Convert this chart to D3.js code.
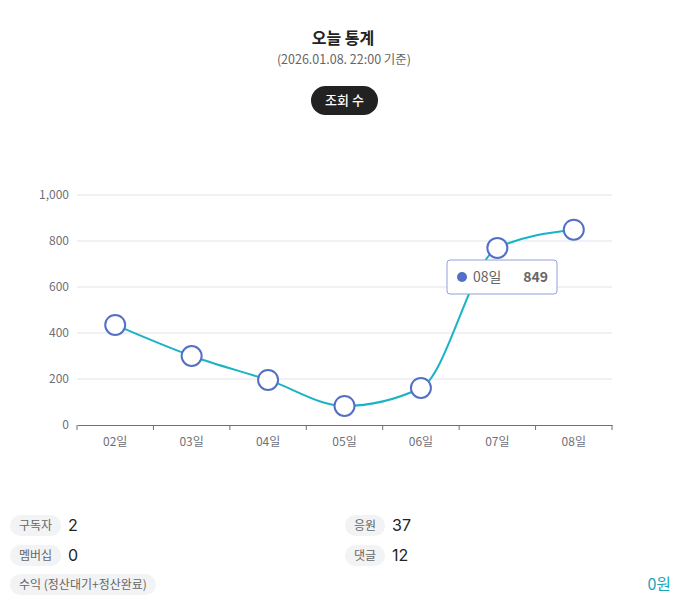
<!DOCTYPE html>
<html><head><meta charset="utf-8">
<script src="https://cdn.jsdelivr.net/npm/d3@7"></script>
<style>
body{margin:0;background:#fff;font-family:"Noto Sans CJK KR","Noto Sans",sans-serif;}
</style></head>
<body><svg id="c" width="685" height="613"></svg>
<script>
const categories = ["02일","03일","04일","05일","06일","07일","08일"];
const values = [435, 300, 196, 83, 161, 770, 849];
const yTicks = [0, 200, 400, 600, 800, 1000];
const statsLeft = [["구독자","2"],["멤버십","0"]];
const statsRight = [["응원","37"],["댓글","12"]];
const revenueLabel = "수익 (정산대기+정산완료)";
const revenueValue = "0원";
const tooltipIndex = 6;

const svg = d3.select("#c");
const font = '"Noto Sans CJK KR","Noto Sans",sans-serif';
const numFont = 'Inter,"Noto Sans CJK KR",sans-serif';

svg.append("text").attr("x",343).attr("y",44).attr("text-anchor","middle")
  .attr("font-size",16).attr("font-weight",700).attr("fill","#222").attr("font-family",font).text("오늘 통계");
svg.append("text").attr("x",344).attr("y",64).attr("text-anchor","middle")
  .attr("font-size",12.5).attr("fill","#666").attr("font-family",font).text("(2026.01.08. 22:00 기준)");
svg.append("rect").attr("x",311).attr("y",86).attr("width",67).attr("height",29).attr("rx",14.5).attr("fill","#222");
svg.append("text").attr("x",344.5).attr("y",105).attr("text-anchor","middle")
  .attr("font-size",13).attr("font-weight",500).attr("fill","#fff").attr("font-family",font).text("조회 수");

const x = d3.scaleBand().domain(categories).range([77,612]);
const y = d3.scaleLinear().domain([0,1000]).range([425,195]);

const g = svg.append("g");
g.selectAll("line.grid").data(yTicks.filter(d=>d>0)).join("line")
  .attr("x1",77).attr("x2",612).attr("y1",d=>y(d)).attr("y2",d=>y(d))
  .attr("stroke","#e0e3ea").attr("stroke-width",1);

const ya = g.append("g").attr("transform","translate(77,0)")
  .call(d3.axisLeft(y).tickValues(yTicks).tickFormat(d3.format(",")).tickSize(0).tickPadding(8));
ya.select(".domain").remove();
ya.selectAll("text").attr("font-size",12).attr("fill","#6e7079").attr("font-family",font);

const xa = g.append("g").attr("transform","translate(0,425)")
  .call(d3.axisBottom(x).tickSize(0).tickPadding(12));
xa.select(".domain").attr("stroke","#6e7079");
xa.selectAll("text").attr("font-size",12).attr("fill","#6e7079").attr("font-family",font);
const bounds = categories.map(c=>x(c)).concat([x.range()[1]]);
xa.selectAll("line.bt").data(bounds).join("line").attr("class","bt")
  .attr("x1",d=>d).attr("x2",d=>d).attr("y1",0).attr("y2",5).attr("stroke","#6e7079");

const line = d3.line().x((d,i)=>x(categories[i])+x.bandwidth()/2).y(d=>y(d)).curve(d3.curveMonotoneX);
g.append("path").datum(values).attr("d",line).attr("fill","none").attr("stroke","#1ab3c6").attr("stroke-width",2);
g.selectAll("circle.pt").data(values).join("circle")
  .attr("cx",(d,i)=>x(categories[i])+x.bandwidth()/2).attr("cy",d=>y(d)).attr("r",10)
  .attr("fill","#fff").attr("stroke","#5470c6").attr("stroke-width",2);

// tooltip
const tt = svg.append("g").attr("transform","translate(447,260)");
tt.append("rect").attr("x",0).attr("y",0).attr("width",110).attr("height",34).attr("rx",3)
  .attr("fill","#fff").attr("stroke","#8fa0dc").attr("stroke-width",1);
tt.append("circle").attr("cx",15).attr("cy",17).attr("r",5).attr("fill","#5470c6");
tt.append("text").attr("x",26).attr("y",22).attr("font-size",14).attr("fill","#666").attr("font-family",font).text(categories[tooltipIndex]);
tt.append("text").attr("x",101).attr("y",22).attr("text-anchor","end").attr("font-size",14).attr("font-weight",700).attr("fill","#666").attr("font-family",font).text(values[tooltipIndex]);

// stats
function pill(xp, yp, label){
  const t = svg.append("text").attr("x",xp+9).attr("y",yp+15).attr("font-size",12).attr("fill","#666").attr("font-family",font).text(label);
  const w = t.node().getComputedTextLength();
  svg.insert("rect","text").attr("x",xp).attr("y",yp).attr("width",w+18).attr("height",21).attr("rx",10.5).attr("fill","#f2f3f4");
  return w+18;
}
statsLeft.forEach((s,i)=>{
  const yp = 515 + i*30;
  pill(10, yp, s[0]);
  svg.append("text").attr("x",68).attr("y",yp+16).attr("font-size",16).attr("fill","#222").attr("font-family",numFont).text(s[1]);
});
statsRight.forEach((s,i)=>{
  const yp = 515 + i*30;
  pill(345, yp, s[0]);
  svg.append("text").attr("x",392).attr("y",yp+16).attr("font-size",16).attr("fill","#222").attr("font-family",numFont).text(s[1]);
});
pill(10, 574, revenueLabel);
svg.append("text").attr("x",671).attr("y",590).attr("text-anchor","end").attr("font-size",16).attr("fill","#1aa7b9").attr("font-family",font).text(revenueValue);
</script></body></html>
